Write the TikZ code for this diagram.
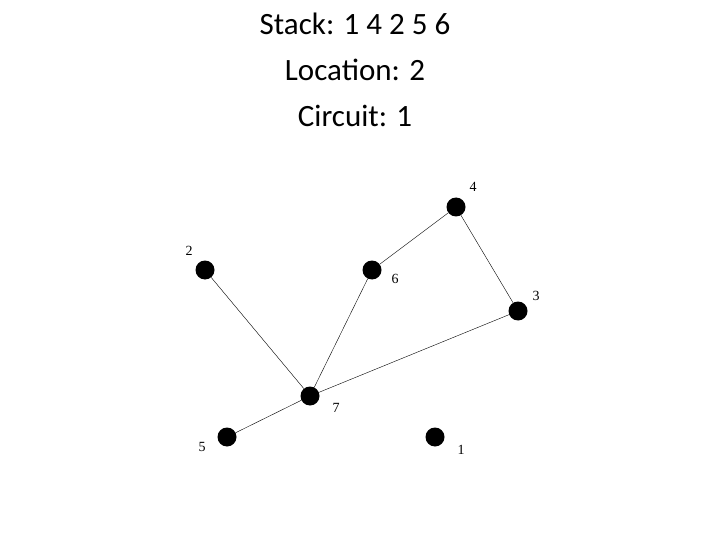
\documentclass[tikz,border=0pt]{standalone}
\usepackage{fontspec}
\setmainfont{Carlito}
\newfontfamily\labelfont{Liberation Serif}
\usetikzlibrary{positioning}

\begin{document}
\begin{tikzpicture}[x=1pt, y=-1pt,
    vertex/.style={circle, fill=black, inner sep=0pt, minimum size=19pt},
    vlabel/.style={font=\labelfont\fontsize{14}{14}\selectfont, inner sep=1pt}]
  \useasboundingbox (0,0) rectangle (720,540);
  \node (title) at (355,70) [align=center, font=\fontsize{31}{46}\selectfont]
    {Stack: 1 4 2 5 6\\Location: 2\\Circuit: 1};

  \node[vertex] (v4) at (456,207) {};
  \node[vertex] (v2) at (205,270) {};
  \node[vertex] (v6) at (372,270) {};
  \node[vertex] (v3) at (518,311) {};
  \node[vertex] (v7) at (310,396) {};
  \node[vertex] (v5) at (227,437) {};
  \node[vertex] (v1) at (435,437) {};

  \node[vlabel] at (473,187) {4};
  \node[vlabel] at (189,251) {2};
  \node[vlabel] at (395,279) {6};
  \node[vlabel] at (536,296) {3};
  \node[vlabel] at (336,408) {7};
  \node[vlabel] at (202,447) {5};
  \node[vlabel] at (461,450) {1};

  \draw (v4) -- (v6)
        (v4) -- (v3)
        (v2) -- (v7)
        (v6) -- (v7)
        (v3) -- (v7)
        (v7) -- (v5);
\end{tikzpicture}
\end{document}
